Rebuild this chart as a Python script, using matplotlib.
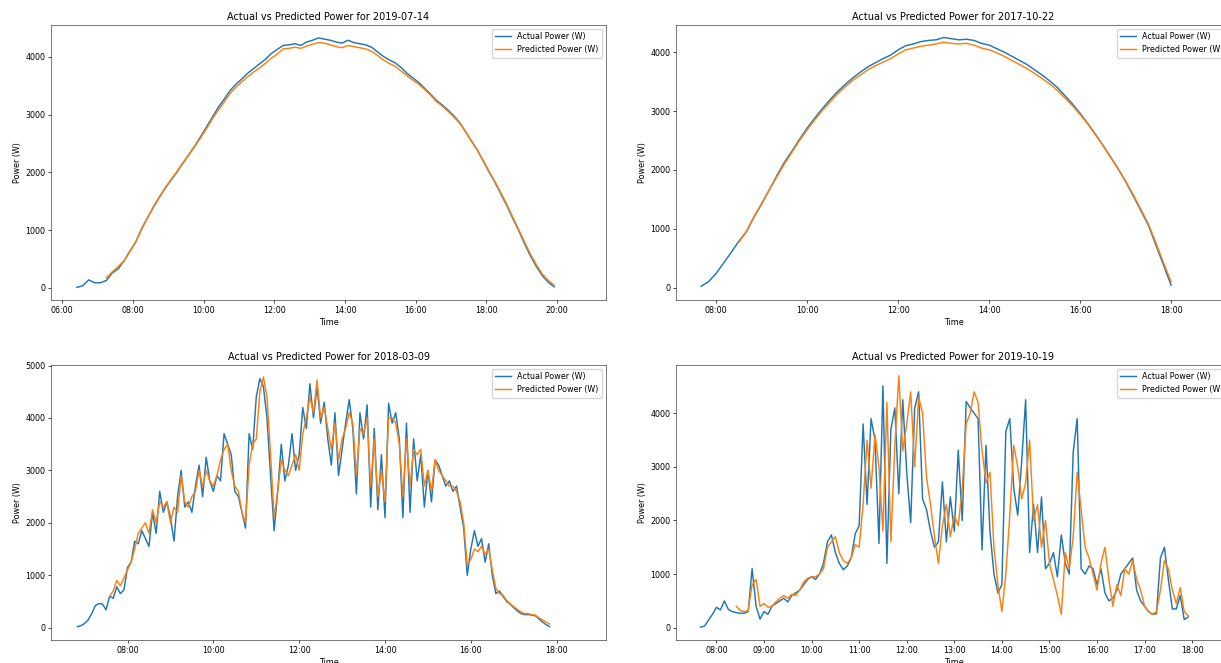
import numpy as np
import pandas as pd
import matplotlib
matplotlib.use("Agg")
import matplotlib.pyplot as plt
import matplotlib.dates as mdates

plt.rcParams.update({
    "font.size": 5.8,
    "axes.titlesize": 7.0,
    "axes.labelsize": 5.8,
    "xtick.labelsize": 5.8,
    "ytick.labelsize": 5.8,
    "legend.fontsize": 5.8,
    "lines.linewidth": 1.05,
    "axes.linewidth": 0.5,
    "axes.edgecolor": "#444444",
    "xtick.major.size": 2,
    "ytick.major.size": 2,
    "xtick.major.width": 0.5,
    "ytick.major.width": 0.5,
    "xtick.major.pad": 2,
    "ytick.major.pad": 2,
    "axes.titlepad": 3.5,
    "axes.labelpad": 2.5,
})

C_ACT, C_PRED = "#1f77b4", "#ff7f0e"

# ---- 2019-07-14 (10 min steps) ----
D1 = "2019-07-14"
D1_ACT_START, D1_PRED_START = "06:25", "07:15"
d1_actual = [10, 40, 140, 90, 90, 130, 260, 330, 470, 640,
             800, 1030, 1220, 1400, 1570, 1730, 1870, 2010, 2160, 2310,
             2460, 2620, 2790, 2960, 3130, 3270, 3420, 3530, 3620, 3720,
             3800, 3880, 3960, 4060, 4130, 4200, 4210, 4230, 4200, 4260,
             4290, 4330, 4310, 4290, 4260, 4240, 4290, 4250, 4230, 4210,
             4170, 4090, 4010, 3950, 3900, 3820, 3720, 3640, 3560, 3460,
             3360, 3250, 3170, 3080, 2980, 2860, 2700, 2540, 2380, 2190,
             2000, 1820, 1620, 1420, 1200, 990, 760, 550, 370, 210,
             100, 20]
d1_pred = [180, 280, 370, 470, 630, 800, 1020, 1220, 1410, 1580,
           1740, 1880, 2020, 2170, 2310, 2450, 2600, 2760, 2930, 3080,
           3220, 3370, 3480, 3570, 3660, 3740, 3810, 3890, 3980, 4050,
           4140, 4150, 4170, 4150, 4190, 4220, 4250, 4240, 4210, 4180,
           4160, 4200, 4180, 4160, 4140, 4100, 4030, 3950, 3890, 3840,
           3760, 3680, 3600, 3530, 3440, 3340, 3230, 3150, 3060, 2960,
           2850, 2700, 2540, 2380, 2200, 2010, 1830, 1640, 1440, 1220,
           1010, 790, 580, 400, 240, 130, 50]

# ---- 2017-10-22 (10 min steps) ----
D2 = "2017-10-22"
D2_ACT_START, D2_PRED_START = "07:40", "08:30"
d2_actual = [20, 100, 240, 420, 600, 790, 950, 1200, 1420, 1660,
             1900, 2130, 2320, 2520, 2710, 2880, 3040, 3190, 3330, 3450,
             3560, 3660, 3750, 3820, 3890, 3950, 4040, 4110, 4140, 4180,
             4200, 4210, 4250, 4230, 4210, 4220, 4200, 4150, 4120, 4060,
             4000, 3930, 3860, 3790, 3700, 3610, 3510, 3400, 3260, 3120,
             2960, 2790, 2610, 2420, 2220, 2020, 1800, 1560, 1310, 1060,
             720, 380, 40]
d2_pred = [770, 960, 1210, 1430, 1660, 1880, 2100, 2300, 2500, 2680,
           2850, 3010, 3150, 3290, 3410, 3520, 3610, 3700, 3770, 3830,
           3890, 3970, 4040, 4070, 4100, 4120, 4140, 4170, 4150, 4140,
           4150, 4120, 4070, 4040, 3990, 3930, 3860, 3790, 3720, 3640,
           3550, 3460, 3350, 3220, 3090, 2940, 2780, 2600, 2420, 2220,
           2020, 1810, 1580, 1330, 1080, 760, 420, 100]

# ---- 2018-03-09 (5 min steps) ----
D3 = "2018-03-09"
D3_ACT_START, D3_PRED_START = "06:50", "07:35"
d3_actual = [20, 40,
             80, 150, 270, 420, 460, 450, 340, 600, 560, 780, 650, 720,
             1150, 1250, 1650, 1600, 1850, 1700, 1550, 2200, 1800, 2600, 2200, 2400,
             2100, 1650, 2500, 3000, 2300, 2400, 2200, 2700, 3100, 2500, 3250, 2800,
             2600, 2900, 2800, 3700, 3500, 3300, 2600, 2500, 2200, 1900, 3700, 3400,
             4400, 4750, 4600, 4000, 2900, 1850, 2600, 3500, 2800, 3100, 3700, 3000,
             3300, 4200, 3800, 4650, 4000, 4600, 3900, 4300, 3600, 3100, 4100, 2900,
             3400, 3900, 4350, 3800, 2550, 4100, 3600, 4250, 2300, 3800, 2250, 3300,
             2100, 4280, 3900, 4100, 3600, 2100, 3900, 2200, 3600, 2800, 3300, 2300,
             3000, 2400, 3200, 3100, 2900, 2700, 2800, 2600, 2700, 2300, 1900, 1000,
             1500, 1850, 1550, 1700, 1250, 1600, 1000, 650, 700, 600, 500, 450,
             380, 320, 270, 250, 250, 240, 230, 170, 110, 60, 20]
d3_pred = [600, 700, 900, 800, 950,
           1100, 1250, 1500, 1800, 1900, 2000, 1800, 2250, 2000, 2400, 2300, 2400,
           2000, 2300, 2200, 2900, 2400, 2300, 2500, 2600, 3000, 2700, 3000, 2800,
           2700, 2900, 3200, 3400, 3500, 3000, 2700, 2600, 2200, 2000, 3100, 3500,
           3600, 4500, 4780, 4400, 3300, 2100, 2600, 3200, 3000, 2900, 3100, 3300,
           3000, 3700, 4000, 4400, 4100, 4720, 4000, 4200, 3800, 3400, 3900, 3200,
           3600, 3800, 4100, 3900, 2900, 3800, 3700, 4000, 2700, 3600, 2500, 3000,
           2400, 4000, 4000, 3900, 3500, 2500, 3600, 2700, 3400, 3300, 3400, 2700,
           3000, 2600, 3200, 3000, 2900, 2800, 2700, 2700, 2600, 2400, 2000, 1200,
           1300, 1500, 1450, 1550, 1400, 1500, 1100, 750, 650, 620, 520, 460,
           400, 350, 300, 270, 270, 250, 240, 190, 150, 110, 70]

# ---- 2019-10-19 (5 min steps) ----
D4 = "2019-10-19"
D4_ACT_START, D4_PRED_START = "07:40", "08:25"
d4_actual = [10, 30, 140, 250,
             380, 330, 500, 340, 300, 280, 270, 270, 300, 1100, 400, 160,
             300, 250, 400, 450, 500, 550, 480, 600, 650, 700, 800, 900,
             950, 900, 1000, 1200, 1600, 1730, 1400, 1200, 1080, 1150, 1300, 1750,
             1900, 3800, 2300, 3900, 3500, 1570, 4510, 1200, 3700, 4100, 2500, 4250,
             2900, 1960, 4090, 4400, 2400, 2200, 1800, 1500, 1600, 2720, 1600, 2440,
             1800, 3310, 2000, 4220, 4100, 4000, 3900, 1450, 3400, 1800, 1000, 650,
             800, 3660, 3900, 2600, 2100, 3100, 4250, 1400, 2300, 1400, 2440, 1100,
             1200, 1400, 950, 1730, 1200, 1000, 3280, 3900, 1100, 1000, 1150, 1100,
             800, 1100, 650, 500, 550, 700, 1000, 1100, 1200, 1300, 700, 500,
             400, 300, 250, 260, 1300, 1500, 900, 350, 350, 600, 150, 200]
d4_pred = [400, 320, 300, 320, 800, 900, 400,
           450, 380, 400, 480, 550, 600, 550, 620, 600, 700, 850, 920,
           950, 950, 1000, 1100, 1500, 1600, 1700, 1400, 1250, 1200, 1300, 1550,
           1500, 2300, 3500, 2600, 3600, 3000, 1800, 4200, 1600, 3400, 4700, 3300,
           3800, 4400, 3000, 4300, 4000, 2800, 2300, 1700, 1200, 1900, 2300, 1700,
           2100, 1900, 2600, 3800, 4000, 4400, 4200, 3300, 2700, 2900, 1500, 800,
           300, 1000, 2100, 3400, 3000, 2400, 2700, 3500, 2000, 2300, 1500, 2000,
           1200, 900, 600, 250, 1400, 1100, 1700, 2900, 2200, 1500, 1300, 1000,
           700, 1200, 1500, 900, 400, 800, 600, 1100, 1000, 1250, 900, 700,
           400, 300, 250, 300, 700, 1250, 1100, 700, 450, 750, 300, 220]

PANELS = [
    # date, actual start, actual, pred start, pred, step, xlim, ylim, hour step, axes top-left px
    (D1, D1_ACT_START, d1_actual, D1_PRED_START, d1_pred, "10min",
     ("05:41", "21:23"), (-208, 4554), 2, (51, 25)),
    (D2, D2_ACT_START, d2_actual, D2_PRED_START, d2_pred, "10min",
     ("07:07", "19:19"), (-212, 4462), 2, (676, 25)),
    (D3, D3_ACT_START, d3_actual, D3_PRED_START, d3_pred, "5min",
     ("06:13", "19:09"), (-235, 5010), 2, (51, 365)),
    (D4, D4_ACT_START, d4_actual, D4_PRED_START, d4_pred, "5min",
     ("07:09", "18:49"), (-230, 4900), 1, (676, 365)),
]

W, H = 1221, 663
AX_W, AX_H = 555, 275

fig = plt.figure(figsize=(W / 100, H / 100), dpi=100)

for day, a_start, act, p_start, pred, step, xl, yl, hstep, (px, py) in PANELS:
    ax = fig.add_axes([px / W, 1 - (py + AX_H) / H, AX_W / W, AX_H / H])
    t_act = pd.date_range(f"{day} {a_start}", periods=len(act), freq=step)
    t_pred = pd.date_range(f"{day} {p_start}", periods=len(pred), freq=step)
    ax.plot(t_act, act, color=C_ACT, label="Actual Power (W)")
    ax.plot(t_pred, pred, color=C_PRED, label="Predicted Power (W)")
    ax.set_xlim(pd.Timestamp(f"{day} {xl[0]}"), pd.Timestamp(f"{day} {xl[1]}"))
    ax.set_ylim(*yl)
    ax.xaxis.set_major_locator(mdates.HourLocator(byhour=range(0, 24, hstep)))
    ax.xaxis.set_major_formatter(mdates.DateFormatter("%H:%M"))
    ax.set_title(f"Actual vs Predicted Power for {day}")
    ax.set_xlabel("Time")
    ax.set_ylabel("Power (W)")
    ax.legend(loc="upper right")

fig.savefig("out.png", dpi=100)
